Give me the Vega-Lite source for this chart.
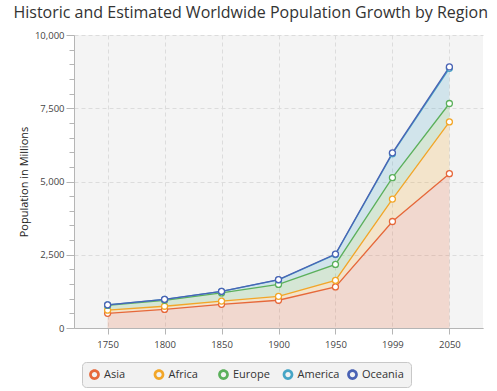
{
  "$schema": "https://vega.github.io/schema/vega-lite/v6.json",
  "width": 409,
  "height": 293,
  "autosize": {"type": "none"},
  "padding": {"left": 74, "top": 35, "right": 14, "bottom": 63},
  "background": "white",
  "title": {
    "text": "Historic and Estimated Worldwide Population Growth by Region",
    "font": "Open Sans",
    "fontSize": 16,
    "fontWeight": "normal",
    "color": "#333333",
    "anchor": "middle",
    "frame": "bounds",
    "offset": 9
  },
  "config": {
    "view": {"fill": "#f4f4f4", "stroke": null},
    "font": "Open Sans"
  },
  "data": {
    "values": [
      {"year": 1750, "region": "Asia", "pop": 502},
      {"year": 1800, "region": "Asia", "pop": 635},
      {"year": 1850, "region": "Asia", "pop": 809},
      {"year": 1900, "region": "Asia", "pop": 947},
      {"year": 1950, "region": "Asia", "pop": 1402},
      {"year": 1999, "region": "Asia", "pop": 3634},
      {"year": 2050, "region": "Asia", "pop": 5268},
      {"year": 1750, "region": "Africa", "pop": 106},
      {"year": 1800, "region": "Africa", "pop": 107},
      {"year": 1850, "region": "Africa", "pop": 111},
      {"year": 1900, "region": "Africa", "pop": 133},
      {"year": 1950, "region": "Africa", "pop": 221},
      {"year": 1999, "region": "Africa", "pop": 767},
      {"year": 2050, "region": "Africa", "pop": 1766},
      {"year": 1750, "region": "Europe", "pop": 163},
      {"year": 1800, "region": "Europe", "pop": 203},
      {"year": 1850, "region": "Europe", "pop": 276},
      {"year": 1900, "region": "Europe", "pop": 408},
      {"year": 1950, "region": "Europe", "pop": 547},
      {"year": 1999, "region": "Europe", "pop": 729},
      {"year": 2050, "region": "Europe", "pop": 628},
      {"year": 1750, "region": "America", "pop": 18},
      {"year": 1800, "region": "America", "pop": 31},
      {"year": 1850, "region": "America", "pop": 54},
      {"year": 1900, "region": "America", "pop": 156},
      {"year": 1950, "region": "America", "pop": 339},
      {"year": 1999, "region": "America", "pop": 818},
      {"year": 2050, "region": "America", "pop": 1201},
      {"year": 1750, "region": "Oceania", "pop": 2},
      {"year": 1800, "region": "Oceania", "pop": 2},
      {"year": 1850, "region": "Oceania", "pop": 2},
      {"year": 1900, "region": "Oceania", "pop": 6},
      {"year": 1950, "region": "Oceania", "pop": 13},
      {"year": 1999, "region": "Oceania", "pop": 30},
      {"year": 2050, "region": "Oceania", "pop": 46}
    ]
  },
  "transform": [
    {"calculate": "indexof(['Asia','Africa','Europe','America','Oceania'], datum.region)", "as": "ri"},
    {"stack": "pop", "groupby": ["year"], "sort": [{"field": "ri", "order": "ascending"}], "as": ["y0", "y1"]}
  ],
  "layer": [
    {
      "mark": {"type": "area", "fillOpacity": 0.2, "line": false},
      "encoding": {
        "x": {
          "field": "year", "type": "ordinal",
          "scale": {"type": "point", "padding": 0.59},
          "axis": {
            "title": null, "labelAngle": 0, "domainColor": "#b5b5b5", "tickColor": "#b5b5b5",
            "tickSize": 6, "labelFontSize": 9.5, "labelColor": "#444444", "labelPadding": 5,
            "grid": true, "gridDash": [4, 3], "gridColor": "#dcdcdc"
          }
        },
        "y": {
          "field": "y1", "type": "quantitative", "stack": null,
          "scale": {"domain": [0, 10000], "nice": false},
          "axis": {
            "title": "Population in Millions", "values": [0, 2500, 5000, 7500, 10000], "format": ",.0f",
            "tickSize": 8, "domainColor": "#b5b5b5", "tickColor": "#b5b5b5",
            "labelFontSize": 9.5, "labelColor": "#444444", "labelPadding": 2,
            "titleFontSize": 11, "titleFontWeight": "normal", "titleColor": "#222222", "titlePadding": 5,
            "grid": true, "gridDash": [4, 3], "gridColor": "#dcdcdc"
          }
        },
        "y2": {"field": "y0"},
        "color": {
          "field": "region", "type": "nominal",
          "scale": {
            "domain": ["Asia", "Africa", "Europe", "America", "Oceania"],
            "range": ["#e6683a", "#f2a628", "#5bb05b", "#46a5c6", "#4a62b4"]
          },
          "legend": {
            "orient": "none", "legendX": 8, "legendY": 327, "direction": "horizontal",
            "columns": 5, "gridAlign": "all", "title": null,
            "fillColor": "#f2f2f2", "strokeColor": "#c8c8c8", "cornerRadius": 4, "padding": 7,
            "symbolType": "M-1,0A1,1 0 1,0 1,0A1,1 0 1,0 -1,0Z M-0.5,0A0.5,0.5 0 1,1 0.5,0A0.5,0.5 0 1,1 -0.5,0Z",
            "symbolSize": 115, "symbolStrokeWidth": 0, "symbolOpacity": 1,
            "labelFont": "Open Sans", "labelFontSize": 11, "labelColor": "#333333", "labelOffset": 4,
            "columnPadding": 7.5
          }
        }
      }
    },
    {
      "mark": {"type": "line", "strokeWidth": 1.3},
      "encoding": {
        "x": {"field": "year", "type": "ordinal"},
        "y": {"field": "y1", "type": "quantitative", "stack": null, "axis": null},
        "color": {"field": "region", "type": "nominal"}
      }
    },
    {
      "mark": {"type": "point", "shape": "circle", "filled": true, "fill": "white", "size": 36, "strokeWidth": 1.3, "opacity": 1},
      "encoding": {
        "x": {"field": "year", "type": "ordinal"},
        "y": {
          "field": "y1", "type": "quantitative", "stack": null,
          "axis": {
            "orient": "left", "title": null, "labels": false, "domain": false, "grid": false,
            "values": [500, 1000, 1500, 2000, 3000, 3500, 4000, 4500, 5500, 6000, 6500, 7000, 8000, 8500, 9000, 9500],
            "tickSize": 5, "tickColor": "#b5b5b5"
          }
        },
        "stroke": {
          "field": "region", "type": "nominal",
          "scale": {
            "domain": ["Asia", "Africa", "Europe", "America", "Oceania"],
            "range": ["#e6683a", "#f2a628", "#5bb05b", "#46a5c6", "#4a62b4"]
          },
          "legend": null
        }
      }
    }
  ],
  "resolve": {"axis": {"y": "independent"}}
}
